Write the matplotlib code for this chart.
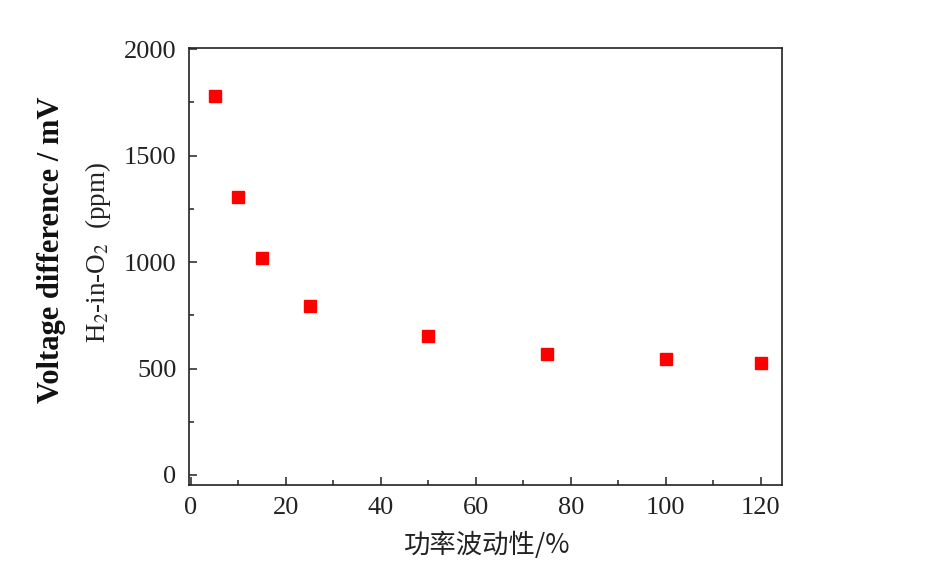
import matplotlib
matplotlib.use("Agg")
import matplotlib.pyplot as plt
from matplotlib.ticker import MultipleLocator

fluct = [5, 10, 15, 25, 50, 75, 100, 120]
voltage = [1779, 1304, 1021, 795, 654, 569, 546, 527]
xticks = [0, 20, 40, 60, 80, 100, 120]
yticks = [0, 500, 1000, 1500, 2000]

fig = plt.figure(figsize=(9.45, 5.67), dpi=100)
ax = fig.add_axes([189/945, 1-485/567, (782-189)/945, (485-48)/567])
ax.plot(fluct, voltage, 's', color='#ff0000', ms=9.2, mec='#ff0000')
ax.set_xlim(-0.4, 124.5)
ax.set_ylim(-47, 2005)
ax.set_xticks(xticks)
ax.set_yticks(yticks)
ax.xaxis.set_minor_locator(MultipleLocator(10))
ax.yaxis.set_minor_locator(MultipleLocator(250))
ax.tick_params(which='both', direction='in', color='#222222', width=1.1)
ax.tick_params(which='major', length=6, labelsize=19, pad=9)
ax.tick_params(which='minor', length=3.5)
for lab in ax.get_xticklabels() + ax.get_yticklabels():
    lab.set_family('Liberation Serif')
    lab.set_color('#222222')
for s in ax.spines.values():
    s.set_linewidth(1.2)
    s.set_color('#222222')

fig.text(52/945, 1-250/567, 'Voltage difference / mV', rotation=90, ha='center', va='center',
         fontsize=22, fontweight='bold', family='Liberation Serif', color='#111111')
fig.text(98/945, 1-252/567, r'H$_2$-in-O$_2$  (ppm)', rotation=90, ha='center', va='center',
         fontsize=19.5, family='Liberation Serif', color='#222222', math_fontfamily='stix')
fig.text(487/945, 1-545/567, '功率波动性/%', ha='center', va='center', fontsize=19,
         family=['Noto Sans CJK SC', 'DejaVu Sans'], color='#222222')

fig.savefig('out.png', dpi=100)
